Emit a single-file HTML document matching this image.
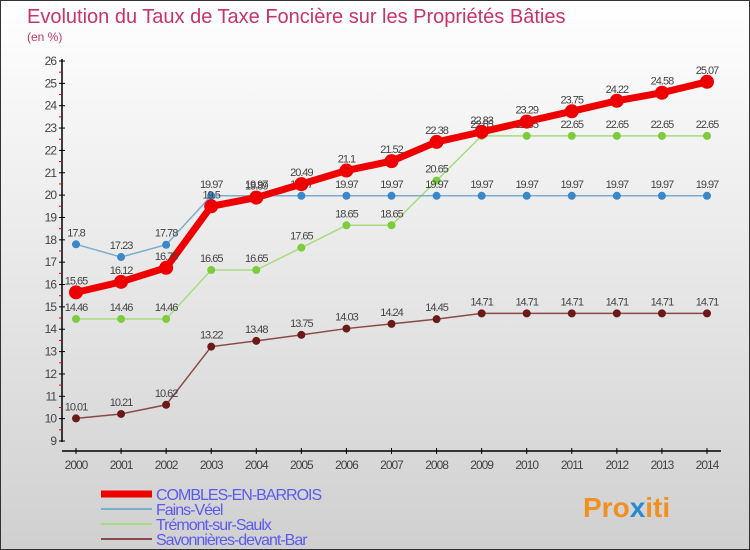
<!DOCTYPE html>
<html><head><meta charset="utf-8"><style>
body{margin:0}
#c{width:750px;height:550px;position:relative;overflow:hidden;box-sizing:border-box;border:1px solid #333;background:linear-gradient(#fff,#d0d0d0);font-family:"Liberation Sans",sans-serif}
</style></head><body>
<div id="c">
<svg id="s" width="750" height="550" style="position:absolute;left:0;top:0">
<text x="26" y="22" font-size="20" fill="#c8336a">Evolution du Taux de Taxe Foncière sur les Propriétés Bâties</text>
<text x="26" y="40" font-size="12" fill="#c8336a">(en %)</text>
<g id="axes"></g><g id="series"></g><g id="legend"></g>
<text x="582" y="516" font-size="28" font-weight="bold" fill="#f09020">Pro<tspan fill="#2a8ad0">x</tspan>iti</text>
</svg>
</div>
<script>
const years=[2000,2001,2002,2003,2004,2005,2006,2007,2008,2009,2010,2011,2012,2013,2014];
const combles=[15.65,16.12,16.75,19.5,19.89,20.49,21.1,21.52,22.38,22.83,23.29,23.75,24.22,24.58,25.07];
const fains=[17.8,17.23,17.78,19.97,19.97,19.97,19.97,19.97,19.97,19.97,19.97,19.97,19.97,19.97,19.97];
const tremont=[14.46,14.46,14.46,16.65,16.65,17.65,18.65,18.65,20.65,22.65,22.65,22.65,22.65,22.65,22.65];
const savon=[10.01,10.21,10.62,13.22,13.48,13.75,14.03,14.24,14.45,14.71,14.71,14.71,14.71,14.71,14.71];
const yTicks=[9,10,11,12,13,14,15,16,17,18,19,20,21,22,23,24,25,26];
const NS="http://www.w3.org/2000/svg";
const X=i=>75+i*(706-75)/14;
const Y=v=>440-(v-9)*(440-60)/17;
function mk(p,t,a){const e=document.createElementNS(NS,t);for(const k in a)e.setAttribute(k,a[k]);p.appendChild(e);return e;}
const ax=document.getElementById('axes'),sg=document.getElementById('series'),lg=document.getElementById('legend');
let l=mk(ax,'line',{x1:61,y1:58,x2:61,y2:441,stroke:'#000','stroke-width':1.5});


l=mk(ax,'line',{x1:61,y1:450,x2:720,y2:450,stroke:'#000','stroke-width':1.5});


yTicks.forEach(v=>{
 mk(ax,'line',{x1:58,y1:Y(v),x2:64,y2:Y(v),stroke:'#000'});
 if(v<26)mk(ax,'line',{x1:58,y1:Y(v+0.5),x2:61,y2:Y(v+0.5),stroke:'#e00'});
 const t=mk(ax,'text',{x:55,y:Y(v)+4,'text-anchor':'end','font-size':12,fill:'#444','letter-spacing':'-1'});
 t.textContent=v;
 
 
});
years.forEach((y,i)=>{
 mk(ax,'line',{x1:X(i),y1:447,x2:X(i),y2:453,stroke:'#000'});
 const t=mk(ax,'text',{x:X(i),y:468,'text-anchor':'middle','font-size':12,fill:'#444','letter-spacing':'-1'});
 t.textContent=y;
 
 
});
const series=[
 {d:savon,c:'#6b1a1a',lc:'#8a4a4a',w:1.5,r:4,n:'savonnieres'},
 {d:tremont,c:'#7ccc3c',lc:'#a8dc80',w:1.5,r:4,n:'tremont'},
 {d:fains,c:'#3a88c8',lc:'#7aaed0',w:1.5,r:4,n:'fains'},
 {d:combles,c:'#ee0000',lc:'#ee0000',w:7,r:7,n:'combles'}];
series.forEach(s=>{
 const pl=mk(sg,'polyline',{points:s.d.map((v,i)=>X(i)+','+Y(v)).join(' '),fill:'none',stroke:s.lc,'stroke-width':s.w});
 
 
 s.d.forEach((v,i)=>{
  const c=mk(sg,'circle',{cx:X(i),cy:Y(v),r:s.r,fill:s.c});
  
  
  const t=mk(sg,'text',{x:X(i),y:Y(v)-8,'text-anchor':'middle','font-size':11,fill:'#444','letter-spacing':'-1'});
  t.textContent=v;
  
  
 });
});
const leg=[['COMBLES-EN-BARROIS','#ee0000',7],['Fains-Véel','#7aaed0',2],['Trémont-sur-Saulx','#a8dc80',2],['Savonnières-devant-Bar','#8a4a4a',2]];
leg.forEach((e,i)=>{
 const y=493+i*15;
 mk(lg,'line',{x1:100,y1:y,x2:151,y2:y,stroke:e[1],'stroke-width':e[2]});
 const t=mk(lg,'text',{x:155,y:y+6,'font-size':16,fill:'#5a5af0','letter-spacing':'-1'});
 t.textContent=e[0];
 
 
});
</script>
</body></html>
